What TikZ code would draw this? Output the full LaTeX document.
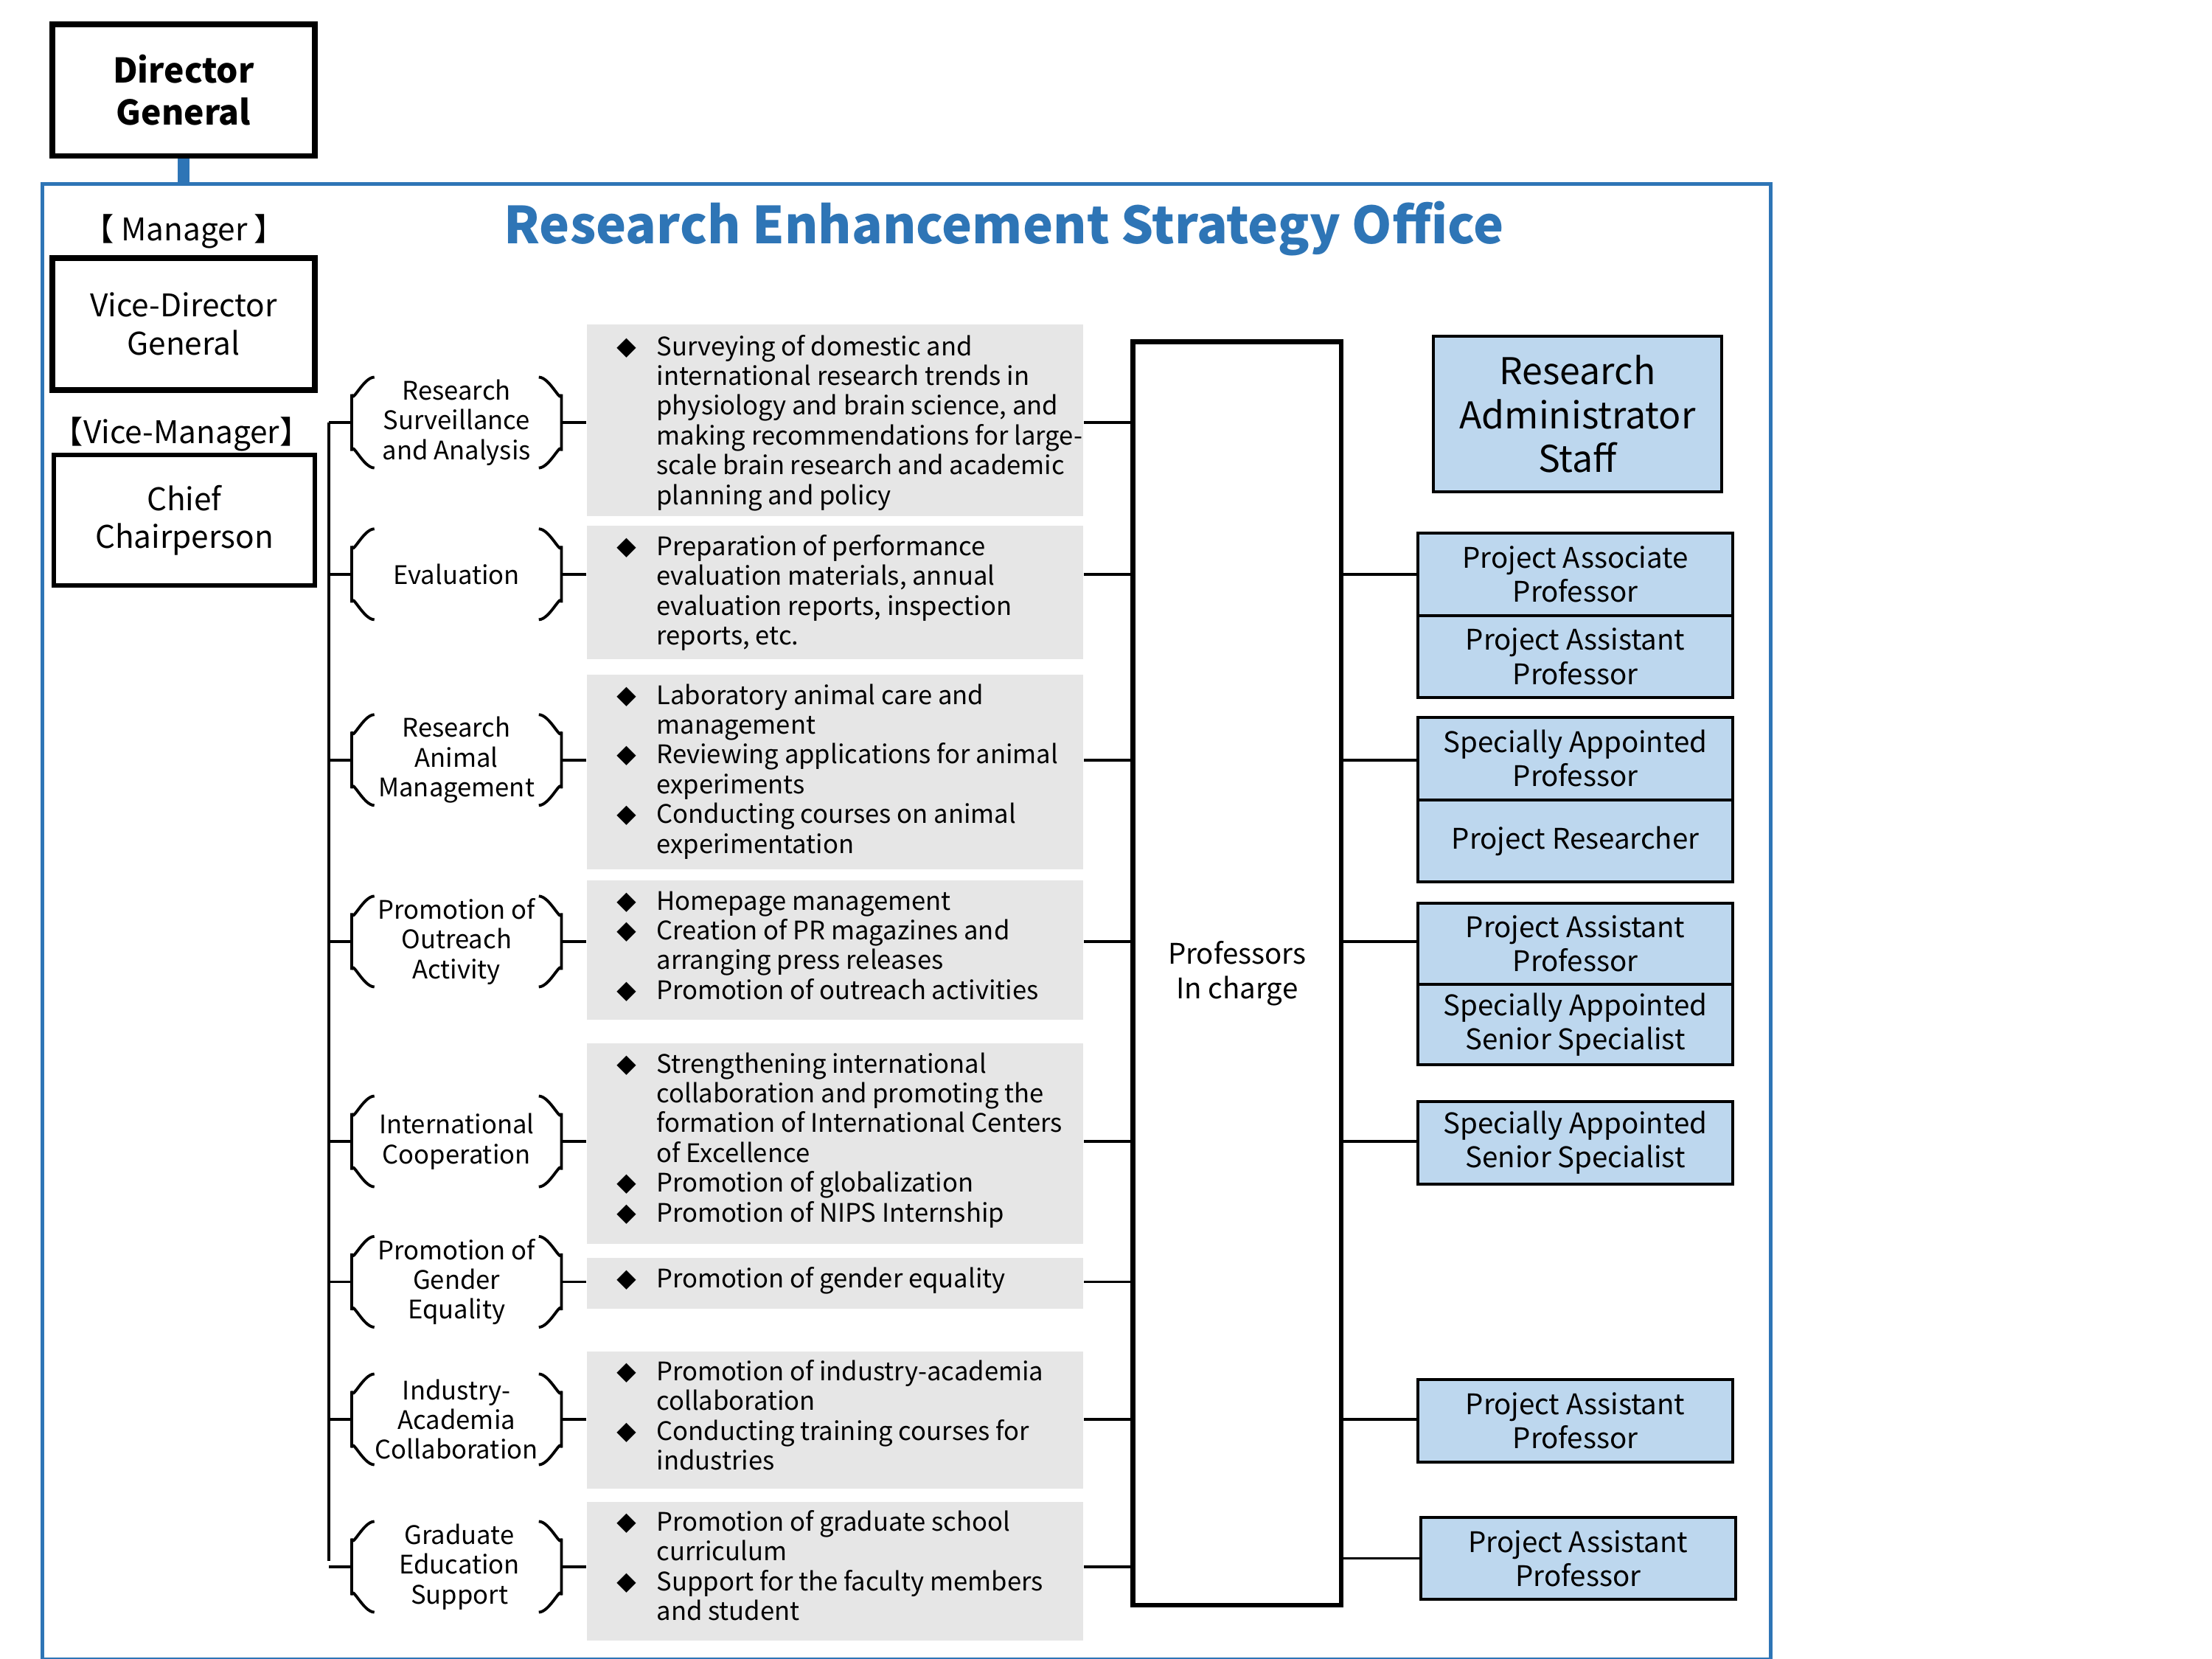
\documentclass[tikz,border=0pt]{standalone}
\usepackage{fontspec}
\setmainfont{Noto Sans CJK JP}
\definecolor{frameblue}{RGB}{46,117,182}
\definecolor{taskgray}{RGB}{230,230,230}
\definecolor{staffblue}{RGB}{189,215,238}
\tikzset{
  headbox/.style={draw, line width=2pt, inner sep=0pt, align=center},
  task/.style={fill=taskgray, inner sep=0pt, minimum width=175pt},
  cat/.style={inner sep=0pt, align=center, font=\fontsize{9}{10.5}\selectfont},
  staff/.style={draw, line width=1pt, fill=staffblue, inner sep=0pt, align=center,
    minimum width=111pt, minimum height=29pt, font=\fontsize{10}{12}\selectfont},
  conn/.style={line width=1pt},
  brace/.style={line width=1pt}
}
\newcommand{\tasktext}[1]{\fontsize{9}{10.5}\selectfont\def\arraystretch{1}%
  \begin{tabular}{@{}l@{\hspace{7pt}}l@{}}#1\end{tabular}}
\newcommand{\bl}{\fontsize{7}{10.5}\selectfont ◆}
\begin{document}
\begin{tikzpicture}[x=0.5pt,y=0.5pt,yscale=-1]
  \useasboundingbox (0,0) rectangle (1560,1170);
  % frame and head
  \draw[frameblue, line width=1.3pt] (30,130) rectangle (1249,1170);
  \node[headbox, minimum width=92.5pt, minimum height=46.5pt, font=\fontsize{12}{15}\selectfont\bfseries] (dg) at (129.5,63.5) {Director\\General};
  \draw[frameblue, line width=4pt] (dg.south) -- (129.5,130);
  \node[text=frameblue, font=\fontsize{18}{20}\selectfont\bfseries] (title) at (708,161) {Research Enhancement Strategy Office};

  % managers
  \node[font=\fontsize{11}{13}\selectfont] (mgr) at (130,163) {【 Manager 】};
  \node[headbox, minimum width=92.5pt, minimum height=46.5pt, font=\fontsize{11}{13.5}\selectfont] (vdg) at (129.5,228.5) {Vice-Director\\General};
  \node[font=\fontsize{11}{13}\selectfont] (vmgr) at (128,306) {【Vice-Manager】};
  \node[headbox, line width=1.6pt, minimum width=92pt, minimum height=46pt, font=\fontsize{11}{13.5}\selectfont] (chief) at (130,367) {Chief\\Chairperson};

  % categories (y, name)
  \node[cat] (c1) at (322,298) {Research\\Surveillance\\and Analysis};
  \node[cat] (c2) at (322,405) {Evaluation};
  \node[cat] (c3) at (322,536) {Research\\Animal\\Management};
  \node[cat] (c4) at (322,664) {Promotion of\\Outreach\\Activity};
  \node[cat] (c5) at (322,805) {International\\Cooperation};
  \node[cat] (c6) at (322,904) {Promotion of\\Gender\\Equality};
  \node[cat] (c7) at (322,1001) {Industry-\\Academia\\Collaboration};
  \node[cat] (c8) at (324,1105) {Graduate\\Education\\Support};

  % task boxes
  \node[task, minimum height=67.5pt] (t1) at (589,296.5) {};
  \node[task, minimum height=47pt] (t2) at (589,418) {};
  \node[task, minimum height=68.5pt] (t3) at (589,544.5) {};
  \node[task, minimum height=49pt] (t4) at (589,670) {};
  \node[task, minimum height=70.5pt] (t5) at (589,806.5) {};
  \node[task, minimum height=18pt] (t6) at (589,905) {};
  \node[task, minimum height=48.5pt] (t7) at (589,1001.5) {};
  \node[task, minimum height=49pt] (t8) at (589,1108) {};
  \node[anchor=west] at (428,299) {\tasktext{\bl & Surveying of domestic and\\ & international research trends in\\ & physiology and brain science, and\\ & making recommendations for large-\\ & scale brain research and academic\\ & planning and policy}};
  \node[anchor=west] at (428,419) {\tasktext{\bl & Preparation of performance\\ & evaluation materials, annual\\ & evaluation reports, inspection\\ & reports, etc.}};
  \node[anchor=west] at (428,545) {\tasktext{\bl & Laboratory animal care and\\ & management\\ \bl & Reviewing applications for animal\\ & experiments\\ \bl & Conducting courses on animal\\ & experimentation}};
  \node[anchor=west] at (428,669) {\tasktext{\bl & Homepage management\\ \bl & Creation of PR magazines and\\ & arranging press releases\\ \bl & Promotion of outreach activities}};
  \node[anchor=west] at (428,805) {\tasktext{\bl & Strengthening international\\ & collaboration and promoting the\\ & formation of International Centers\\ & of Excellence\\ \bl & Promotion of globalization\\ \bl & Promotion of NIPS Internship}};
  \node[anchor=west] at (428,904) {\tasktext{\bl & Promotion of gender equality}};
  \node[anchor=west] at (428,1001) {\tasktext{\bl & Promotion of industry-academia\\ & collaboration\\ \bl & Conducting training courses for\\ & industries}};
  \node[anchor=west] at (428,1107) {\tasktext{\bl & Promotion of graduate school\\ & curriculum\\ \bl & Support for the faculty members\\ & and student}};

  % professors in charge
  \node[draw, line width=1.6pt, minimum width=73.5pt, minimum height=445.5pt, inner sep=0pt, align=center, font=\fontsize{10}{12}\selectfont] (prof) at (872.5,686.5) {Professors\\In charge};

  % staff
  \node[staff, minimum width=101.5pt, minimum height=55pt, font=\fontsize{13}{15.5}\selectfont] (ras) at (1112.5,292) {Research\\Administrator\\Staff};
  \node[staff] (s1) at (1111,405) {Project Associate\\Professor};
  \node[staff] (s2) at (1111,463) {Project Assistant\\Professor};
  \node[staff] (s3) at (1111,535) {Specially Appointed\\Professor};
  \node[staff] (s4) at (1111,593) {Project Researcher};
  \node[staff, minimum height=28.5pt] (s5) at (1111,665.5) {Project Assistant\\Professor};
  \node[staff, minimum height=28.5pt] (s6) at (1111,722.5) {Specially Appointed\\Senior Specialist};
  \node[staff] (s7) at (1111,806) {Specially Appointed\\Senior Specialist};
  \node[staff] (s8) at (1111,1002) {Project Assistant\\Professor};
  \node[staff] (s9) at (1113,1099) {Project Assistant\\Professor};

  % spine and connectors
  \coordinate (spt) at (232,298);
  \coordinate (spb) at (232,1101);
  \draw[conn] (spt) -- (spb);
  \foreach \i in {1,...,8}{
    \draw[conn] (spt |- c\i) -- (248,0 |- c\i);
    \draw[brace] ([shift={(264,-32)}]0,0 |- c\i) to[out=180,in=90] ([shift={(248,-20)}]0,0 |- c\i)
      -- ([shift={(248,20)}]0,0 |- c\i) to[out=-90,in=180] ([shift={(264,32)}]0,0 |- c\i);
    \draw[brace] ([shift={(380,-32)}]0,0 |- c\i) to[out=0,in=90] ([shift={(396,-20)}]0,0 |- c\i)
      -- ([shift={(396,20)}]0,0 |- c\i) to[out=-90,in=0] ([shift={(380,32)}]0,0 |- c\i);
    \draw[conn] (396,0 |- c\i) -- (t\i.west |- c\i);
    \draw[conn] (t\i.east |- c\i) -- (prof.west |- c\i);
  }
  \draw[conn] (prof.east |- c2) -- (s1.west |- c2);
  \draw[conn] (prof.east |- c3) -- (s3.west |- c3);
  \draw[conn] (prof.east |- c4) -- (s5.west |- c4);
  \draw[conn] (prof.east |- c5) -- (s7.west |- c5);
  \draw[conn] (prof.east |- c7) -- (s8.west |- c7);
  \draw[conn] (prof.east |- s9) -- (s9.west);
\end{tikzpicture}
\end{document}
